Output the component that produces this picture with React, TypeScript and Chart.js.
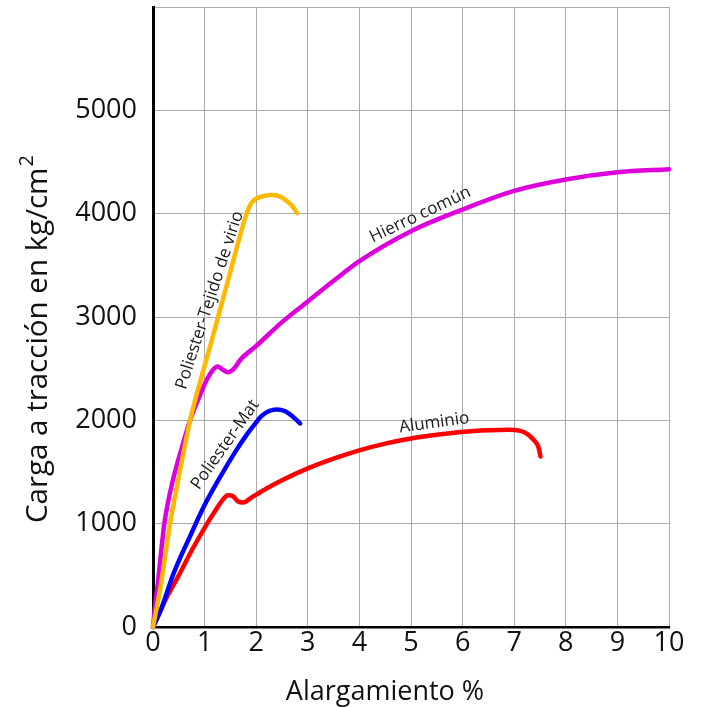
import React, { useEffect, useRef } from "react";
import { Chart, registerables } from "chart.js";

Chart.register(...registerables);

// ---- data ----
const xTickValues = [0, 1, 2, 3, 4, 5, 6, 7, 8, 9, 10];
const yTickValues = [0, 1000, 2000, 3000, 4000, 5000];

const tejidoX = [0, 0.15, 0.33, 0.5, 0.72, 1.14, 1.5, 1.82, 1.9, 2.0, 2.15, 2.3, 2.45, 2.6, 2.72, 2.79];
const tejidoY = [0, 400, 1000, 1450, 2000, 2776, 3440, 4010, 4100, 4145, 4172, 4180, 4168, 4120, 4060, 4005];

const hierroX = [0, 0.04, 0.1, 0.22, 0.39, 0.55, 0.72, 0.9, 1.04, 1.15, 1.25, 1.35, 1.45, 1.55, 1.7, 2, 2.5, 3, 3.5, 4, 5, 6, 7, 8, 9, 10];
const hierroY = [0, 200, 450, 1000, 1430, 1720, 2000, 2230, 2390, 2480, 2520, 2490, 2465, 2490, 2590, 2720, 2950, 3150, 3350, 3540, 3830, 4040, 4220, 4330, 4400, 4430];

const matX = [0, 0.14, 0.4, 0.72, 1.0, 1.3, 1.6, 1.8, 2.0, 2.1, 2.25, 2.4, 2.55, 2.7, 2.85];
const matY = [0, 150, 520, 880, 1180, 1450, 1700, 1850, 1980, 2040, 2090, 2105, 2090, 2040, 1970];

const aluX = [0, 0.25, 0.5, 0.75, 1.0, 1.2, 1.35, 1.45, 1.55, 1.65, 1.75, 1.9, 2.2, 2.5, 3, 3.5, 4, 4.5, 5, 5.5, 6, 6.5, 6.9, 7.1, 7.25, 7.38, 7.47, 7.51];
const aluY = [0, 270, 500, 740, 960, 1120, 1230, 1275, 1265, 1215, 1205, 1250, 1340, 1420, 1535, 1630, 1710, 1775, 1825, 1860, 1890, 1905, 1910, 1900, 1870, 1810, 1740, 1650];

const seriesNames = ["Poliester-Tejido de virio", "Hierro común", "Poliester-Mat", "Aluminio"];
const seriesColors = ["#FFB800", "#DD00DD", "#0000FF", "#FF0000"];

// curve annotations (text, anchor in data units, angle in degrees)
const noteTexts = ["Poliester-Tejido de virio", "Hierro común", "Poliester-Mat", "Aluminio"];
const noteX = [1.1, 5.18, 1.4, 5.45];
const noteY = [3162, 3990, 1765, 1975];
const noteAngle = [-72, -25.5, -55, -8];

const xTitle = "Alargamiento %";
const yTitle = "Carga a tracción en kg/cm";
const yTitleSup = "2";

const FONT = "'Open Sans', 'Noto Sans', sans-serif";

function toPoints(xs: number[], ys: number[]) {
  return xs.map((x, i) => ({ x, y: ys[i] }));
}

const annotationPlugin = {
  id: "curveNotes",
  afterDatasetsDraw(chart: any) {
    const ctx = chart.ctx;
    const xs = chart.scales.x;
    const ys = chart.scales.y;
    ctx.save();
    ctx.fillStyle = "#1a1a1a";
    ctx.font = `17px ${FONT}`;
    ctx.textAlign = "center";
    ctx.textBaseline = "middle";
    noteTexts.forEach((t, i) => {
      const px = xs.getPixelForValue(noteX[i]);
      const py = ys.getPixelForValue(noteY[i]);
      ctx.save();
      ctx.translate(px, py);
      ctx.rotate((noteAngle[i] * Math.PI) / 180);
      ctx.fillText(t, 0, 0);
      ctx.restore();
    });
    ctx.restore();
  },
  afterDraw(chart: any) {
    const ctx = chart.ctx;
    ctx.save();
    ctx.fillStyle = "#111";
    // x title
    ctx.font = `27px ${FONT}`;
    ctx.textAlign = "center";
    ctx.textBaseline = "alphabetic";
    ctx.fillText(xTitle, 385, 700);
    // y title
    ctx.translate(47, 523);
    ctx.rotate(-Math.PI / 2);
    ctx.textAlign = "left";
    ctx.font = `29.5px ${FONT}`;
    ctx.fillText(yTitle, 0, 0);
    const w = ctx.measureText(yTitle).width;
    ctx.font = `20px ${FONT}`;
    ctx.fillText(yTitleSup, w + 1, -14);
    ctx.restore();
  },
};

export default function App() {
  const ref = useRef<HTMLCanvasElement | null>(null);

  useEffect(() => {
    if (!ref.current) return;
    const datasets = [
      toPoints(tejidoX, tejidoY),
      toPoints(hierroX, hierroY),
      toPoints(matX, matY),
      toPoints(aluX, aluY),
    ].map((data, i) => ({
      label: seriesNames[i],
      data,
      borderColor: seriesColors[i],
      backgroundColor: seriesColors[i],
      borderWidth: 4.5,
      pointRadius: 0,
      cubicInterpolationMode: "monotone" as const,
      fill: false,
      clip: false as any,
      borderCapStyle: "round" as const,
    }));

    const chart = new Chart(ref.current, {
      type: "line",
      data: { datasets },
      plugins: [annotationPlugin],
      options: {
        animation: false,
        responsive: false,
        devicePixelRatio: 1,
        layout: { padding: { top: 7, right: 39, left: 0, bottom: 0 } },
        plugins: {
          legend: { display: false },
          tooltip: { enabled: false },
        },
        scales: {
          x: {
            type: "linear",
            min: 0,
            max: 10,
            afterBuildTicks: (scale: any) => {
              scale.ticks = xTickValues.map((v) => ({ value: v }));
            },
            afterFit: (scale: any) => {
              scale.height = 80;
              scale.paddingLeft = 0;
              scale.paddingRight = 0;
            },
            ticks: {
              color: "#111",
              font: { family: FONT, size: 27 },
              padding: 0,
              maxRotation: 0,
              autoSkip: false,
            },
            grid: { color: "#ABABAB", lineWidth: 1, drawTicks: false },
            border: { color: "#000", width: 2.5 },
          },
          y: {
            type: "linear",
            min: 0,
            max: 6000,
            afterBuildTicks: (scale: any) => {
              scale.ticks = [...yTickValues, 6000].map((v) => ({ value: v }));
            },
            afterFit: (scale: any) => {
              scale.width = 153;
              scale.paddingTop = 0;
              scale.paddingBottom = 0;
            },
            ticks: {
              color: "#111",
              font: { family: FONT, size: 27 },
              padding: 16,
              autoSkip: false,
              callback: (v: any) => (yTickValues.includes(Number(v)) ? String(v) : ""),
            },
            grid: { color: "#ABABAB", lineWidth: 1, drawTicks: false },
            border: { color: "#000", width: 3 },
          },
        },
      },
    });
    return () => chart.destroy();
  }, []);

  return (
    <div style={{ position: "absolute", left: 0, top: 0, width: 708, height: 707, background: "#fff" }}>
      <canvas ref={ref} width={708} height={707} style={{ display: "block" }} />
    </div>
  );
}
